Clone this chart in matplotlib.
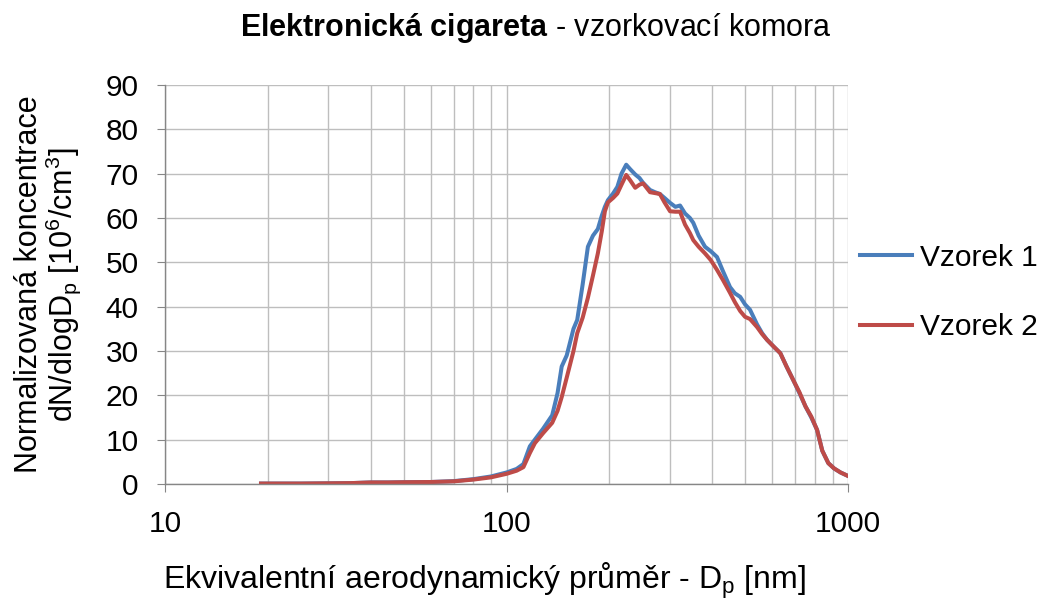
import numpy as np
import matplotlib.pyplot as plt
from matplotlib.ticker import LogLocator, FixedLocator, NullFormatter

plt.rcParams['font.family'] = ['Liberation Sans', 'DejaVu Sans']
plt.rcParams['mathtext.fontset'] = 'custom'
plt.rcParams['mathtext.rm'] = 'Liberation Sans'
plt.rcParams['mathtext.it'] = 'Liberation Sans:italic'
plt.rcParams['mathtext.bf'] = 'Liberation Sans:bold'

# particle diameter [nm] and normalized concentration dN/dlogDp [10^6/cm^3]
diameter = [19.1, 25, 30, 35, 40, 45, 50, 60, 70, 80, 90, 100, 107, 112, 117,
            121, 128, 136, 141, 145, 150, 157, 161, 167, 173, 179, 185, 190,
            194, 198, 205, 211, 217, 224, 230, 238, 245, 251, 263, 272, 281,
            290, 301, 312, 322, 333, 344, 352, 365, 381, 396, 413, 430, 451,
            466, 483, 499, 516, 541, 560, 579, 605, 633, 660, 690, 720, 750,
            780, 811, 840, 875, 910, 950, 1000]
vzorek1 = [0.1, 0.1, 0.15, 0.2, 0.35, 0.35, 0.4, 0.45, 0.65, 1.1, 1.7, 2.6, 3.4,
           4.5, 8.5, 10.0, 12.5, 15.5, 20.5, 26.5, 29.0, 35.0, 37.0, 45.0, 53.5,
           56.0, 57.5, 60.5, 62.5, 64.0, 65.5, 67.0, 70.0, 72.0, 71.0, 69.8,
           69.0, 67.9, 66.3, 65.8, 65.4, 64.5, 63.4, 62.5, 62.8, 61.0, 60.0,
           58.9, 56.0, 53.5, 52.5, 51.2, 48.0, 44.4, 43.0, 42.2, 40.5, 39.3,
           36.0, 34.0, 32.5, 31.0, 29.5, 26.5, 23.5, 20.5, 17.5, 15.0, 12.2,
           7.5, 4.7, 3.5, 2.6, 1.8]
vzorek2 = [0.1, 0.1, 0.15, 0.2, 0.35, 0.35, 0.4, 0.45, 0.6, 1.0, 1.5, 2.3, 3.0,
           3.8, 7.0, 9.2, 11.5, 13.8, 16.5, 19.6, 24.0, 30.0, 34.0, 37.5, 42.0,
           47.0, 52.0, 57.0, 61.5, 63.5, 64.5, 65.5, 67.5, 69.7, 68.5, 66.8,
           67.5, 67.8, 65.8, 65.6, 65.4, 63.5, 61.5, 61.4, 61.4, 58.5, 56.6,
           55.0, 53.5, 52.0, 50.5, 48.3, 46.0, 43.1, 41.0, 39.0, 37.7, 37.2,
           35.4, 33.8, 32.5, 31.0, 29.5, 26.5, 23.5, 20.7, 17.5, 15.2, 12.2,
           7.5, 4.7, 3.5, 2.6, 1.8]
labels = ['Vzorek 1', 'Vzorek 2']
colors = ['#4A7EBB', '#BE4B48']

fig = plt.figure(figsize=(10.51, 6.02), dpi=100)
ax = fig.add_axes([0.157, 0.196, 0.65, 0.663])

for y, lab, c in zip([vzorek1, vzorek2], labels, colors):
    ax.plot(diameter, y, color=c, lw=2.9, label=lab, solid_joinstyle='round')

ax.set_xscale('log')
ax.set_xlim(10, 1000)
ax.set_ylim(0, 90)
ax.set_yticks(np.arange(0, 91, 10))
ax.xaxis.set_major_locator(FixedLocator([10, 100, 1000]))
ax.xaxis.set_major_formatter(plt.FuncFormatter(lambda v, p: f'{v:g}'))
ax.xaxis.set_minor_locator(LogLocator(base=10, subs=np.arange(2, 10)))
ax.xaxis.set_minor_formatter(NullFormatter())

gc = '#BEBEBE'
ax.grid(True, which='major', color=gc, lw=1.0)
ax.grid(True, which='minor', axis='x', color=gc, lw=1.0)
ax.set_axisbelow(True)

for s in ['top', 'right']:
    ax.spines[s].set_visible(False)
for s in ['left', 'bottom']:
    ax.spines[s].set_color('#868686')
    ax.spines[s].set_linewidth(1.0)

ax.tick_params(axis='both', which='major', direction='out', length=6,
               color='#868686', labelsize=21.5)
ax.tick_params(axis='y', which='major', pad=13)
ax.tick_params(axis='x', which='minor', length=0)
ax.tick_params(axis='x', which='major', pad=13)

ax.set_xlabel('Ekvivalentní aerodynamický průměr - D$_\\mathrm{p}$ [nm]',
              fontsize=23, labelpad=16, x=0.468)
ax.set_ylabel('Normalizovaná koncentrace\ndN/dlogD$_\\mathrm{p}$ [10$^6$/cm$^3$]',
              fontsize=22, labelpad=16, linespacing=1.0)

fig.text(0.51, 0.953, r'$\mathbf{Elektronická\ cigareta}$ - vzorkovací komora',
         ha='center', va='center', fontsize=22)

ax.legend(loc='center left', bbox_to_anchor=(1.0, 0.48), frameon=False,
          fontsize=21.5, handlelength=1.75, handletextpad=0.25,
          labelspacing=1.4, borderaxespad=0.0, borderpad=0.4)

fig.savefig('out.png', dpi=100)
